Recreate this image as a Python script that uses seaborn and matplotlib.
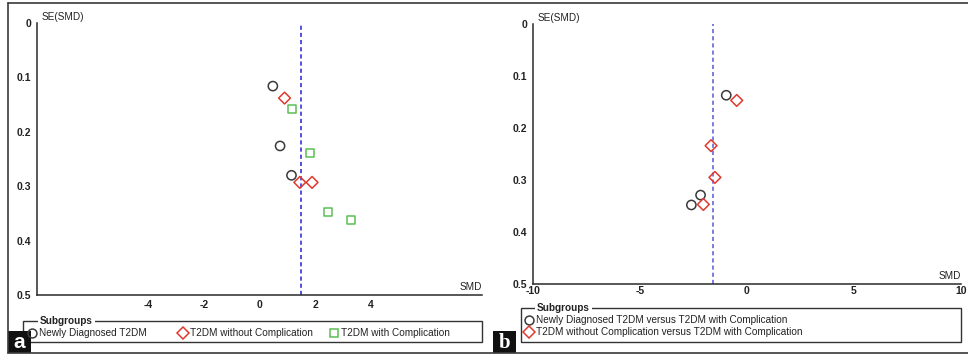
import matplotlib
matplotlib.use('Agg')
import matplotlib.pyplot as plt
from matplotlib.lines import Line2D
from matplotlib.patches import Rectangle
import seaborn as sns
import pandas as pd

# ---- data ----
# panel a
a_groups = ['Newly Diagnosed T2DM', 'T2DM without Complication', 'T2DM with Complication']
a_newly_smd = [0.48, 0.74, 1.15]
a_newly_se = [0.116, 0.226, 0.280]
a_without_smd = [0.90, 1.45, 1.89]
a_without_se = [0.138, 0.293, 0.293]
a_with_smd = [1.18, 1.83, 2.47, 3.29]
a_with_se = [0.158, 0.239, 0.347, 0.362]
a_pooled = 1.48
a_xticks = [-4, -2, 0, 2, 4]

# panel b
b_groups = ['Newly Diagnosed T2DM versus T2DM with Complication',
            'T2DM without Complication versus T2DM with Complication']
b_newly_smd = [-0.97, -2.17, -2.60]
b_newly_se = [0.137, 0.329, 0.348]
b_without_smd = [-0.48, -1.68, -1.50, -2.04]
b_without_se = [0.147, 0.234, 0.295, 0.347]
b_pooled = -1.57
b_xticks = [-10, -5, 0, 5, 10]

y_ticks = [0, 0.1, 0.2, 0.3, 0.4, 0.5]
y_ticklabels = ['0', '0.1', '0.2', '0.3', '0.4', '0.5']

sns.set_style('white')
plt.rcParams['font.family'] = ['Liberation Sans', 'DejaVu Sans']

W, H = 968, 357
fig = plt.figure(figsize=(W / 100, H / 100), dpi=100)


def fx(px):
    return px / W


def fy(py):
    return 1 - py / H


# marker styles per subgroup
styles = {
    'newly': dict(marker='o', edgecolor='#3a3a3a', s=44),
    'without': dict(marker='D', edgecolor='#e0392e', s=36),
    'with': dict(marker='s', edgecolor='#5cbf55', s=34),
}


def funnel(ax, series, pooled, xlim, xticks, line_color, xpad):
    for key, smd, se in series:
        df = pd.DataFrame({'SMD': smd, 'SE': se})
        st = styles[key]
        sns.scatterplot(data=df, x='SMD', y='SE', ax=ax, marker=st['marker'],
                        s=st['s'], color='none', edgecolor=st['edgecolor'],
                        linewidth=1.1, legend=False, zorder=3)
    ax.axvline(pooled, color=line_color, lw=1.2, ls=(0, (2.5, 1.8)), zorder=2)
    ax.set_xlim(*xlim)
    ax.set_ylim(0.5, 0)
    ax.set_xticks(xticks)
    ax.set_xticklabels([str(t) for t in xticks], fontweight='bold', fontsize=7.5)
    ax.set_yticks(y_ticks)
    ax.set_yticklabels(y_ticklabels, fontweight='bold', fontsize=7.5)
    ax.set_xlabel('')
    ax.set_ylabel('')
    for side in ['top', 'right']:
        ax.spines[side].set_visible(False)
    for side in ['left', 'bottom']:
        ax.spines[side].set_color('#2a2a2a')
        ax.spines[side].set_linewidth(1.1)
    ax.tick_params(axis='both', direction='inout', length=6, width=1.0,
                   color='#2a2a2a', labelcolor='#222222')
    ax.tick_params(axis='y', pad=1)
    ax.tick_params(axis='x', pad=xpad)
    ax.annotate('SE(SMD)', xy=(0, 1), xycoords='axes fraction', xytext=(3, 1),
                textcoords='offset points', ha='left', va='bottom', fontsize=7.2,
                color='#222222')
    ax.annotate('SMD', xy=(1, 0), xycoords='axes fraction', xytext=(0, 2),
                textcoords='offset points', ha='right', va='bottom', fontsize=7.2,
                color='#222222')
    ax.set_facecolor('white')


# panel a axes: x 37..482 px, y 23..295 px
ax_a = fig.add_axes([fx(37), fy(295), fx(482 - 37), (295 - 23) / H])
funnel(ax_a, [('newly', a_newly_smd, a_newly_se),
              ('without', a_without_smd, a_without_se),
              ('with', a_with_smd, a_with_se)],
       a_pooled, (-8, 8), a_xticks, '#3535d6', 0.5)

# panel b axes: x 533..961 px, y 24..284 px
ax_b = fig.add_axes([fx(533), fy(284), fx(961 - 533), (284 - 24) / H])
funnel(ax_b, [('newly', b_newly_smd, b_newly_se),
              ('without', b_without_smd, b_without_se)],
       b_pooled, (-10, 10), b_xticks, '#6565dc', -1.5)

# outer frame (top, left, bottom)
for xs, ys in [((8, 968), (3, 3)), ((8, 8), (3, 353)), ((8, 968), (353, 353))]:
    fig.add_artist(Line2D([fx(x) for x in xs], [fy(y) for y in ys],
                          transform=fig.transFigure, color='#3a3a3a', lw=1.2))


def legend_box(x0, y0, x1, y1, title_x, entries):
    fig.add_artist(Rectangle((fx(x0), fy(y1)), fx(x1 - x0), (y1 - y0) / H,
                             transform=fig.transFigure, fill=False,
                             edgecolor='#333333', lw=1.0))
    fig.text(fx(title_x), fy(y0), 'Subgroups', fontsize=7.2, fontweight='bold',
             ha='left', va='center', color='#222222',
             bbox=dict(facecolor='white', edgecolor='none', pad=1.5))
    for key, label, mx, my in entries:
        st = styles[key]
        ms = 6.4 if st['marker'] == 'o' else 5.8
        fig.add_artist(Line2D([fx(mx)], [fy(my)], transform=fig.transFigure,
                              marker=st['marker'], ls='none', ms=ms,
                              mfc='none', mec=st['edgecolor'], mew=1.1))
        fig.text(fx(mx + 7), fy(my), label, fontsize=7.2, ha='left',
                 va='center', color='#222222')


legend_box(23, 321, 482, 342, 40,
           [('newly', a_groups[0], 32, 333),
            ('without', a_groups[1], 183, 333),
            ('with', a_groups[2], 334, 333)])
legend_box(521, 308, 961, 342, 537,
           [('newly', b_groups[0], 529, 320),
            ('without', b_groups[1], 529, 332)])

# panel letters
for letter, x0, fam in [('a', 8, ['Liberation Sans', 'DejaVu Sans']),
                        ('b', 493, ['Liberation Serif', 'DejaVu Serif'])]:
    fig.add_artist(Rectangle((fx(x0), fy(353)), fx(23), 22 / H,
                             transform=fig.transFigure, facecolor='#111111',
                             edgecolor='none'))
    fig.text(fx(x0 + 11.5), fy(343), letter, fontsize=15, fontweight='bold',
             color='white', ha='center', va='center', family=fam)

fig.savefig('out.png', dpi=100)
